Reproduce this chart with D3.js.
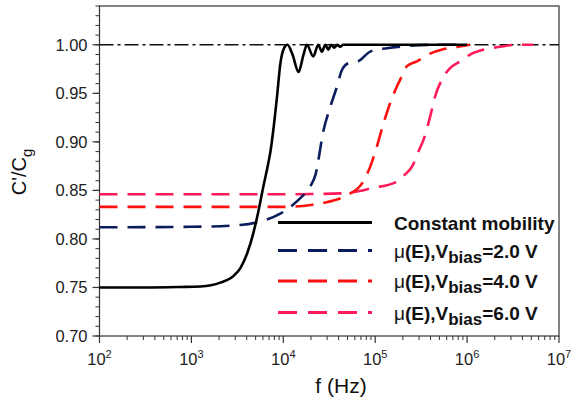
<!DOCTYPE html>
<html>
<head>
<meta charset="utf-8">
<script src="https://cdn.jsdelivr.net/npm/d3@7"></script>
<style>
  body { margin: 0; background: #fff; }
  svg { font-family: "Liberation Sans", Arial, sans-serif; }
</style>
</head>
<body>
<svg id="chart" width="573" height="400"></svg>
<script>
// log10(f) and C'/Cg
var blackLogF = [2.0, 2.5, 2.88, 3.10, 3.315, 3.46, 3.533, 3.61, 3.674, 3.728, 3.783, 3.83, 3.86, 3.891, 3.932, 3.967, 4.011, 4.045,
                 4.10, 4.166, 4.22, 4.257, 4.326, 4.38, 4.42, 4.457, 4.49, 4.52, 4.554, 4.587, 4.62, 4.65, 4.8, 5.2, 5.6, 6.0];
var blackC = [0.750, 0.750, 0.7505, 0.751, 0.755, 0.762, 0.770, 0.786, 0.806, 0.828, 0.854, 0.875, 0.890, 0.912, 0.947, 0.980, 0.997, 1.000,
              0.990, 0.972, 0.990, 1.000, 0.988, 1.000, 0.993, 1.000, 0.995, 1.000, 0.997, 1.000, 0.998, 1.000, 1.000, 1.000, 1.000, 1.000];

var blueLogF = [2.0, 3.0, 3.533, 3.75, 3.967, 4.076, 4.185, 4.293, 4.35, 4.438, 4.511, 4.584, 4.638, 4.707, 4.815, 4.946, 5.127, 5.38, 5.6, 6.0];
var blueC = [0.812, 0.8125, 0.8144, 0.818, 0.826, 0.833, 0.842, 0.854, 0.866, 0.912, 0.936, 0.957, 0.974, 0.981, 0.983, 0.993, 0.9965, 0.999, 1.000, 1.000];

var redLogF = [2.0, 4.0, 4.3, 4.43, 4.69, 4.855, 4.946, 5.018, 5.09, 5.163, 5.236, 5.308, 5.345, 5.453, 5.598, 5.739, 5.902, 6.03];
var redC = [0.833, 0.833, 0.835, 0.837, 0.845, 0.857, 0.8745, 0.895, 0.919, 0.940, 0.957, 0.971, 0.978, 0.983, 0.991, 0.9955, 0.998, 1.000];

var pinkLogF = [2.0, 4.0, 4.652, 4.978, 5.236, 5.32, 5.41, 5.46, 5.525, 5.598, 5.652, 5.725, 5.815, 5.924, 6.033, 6.178, 6.36, 6.54, 6.72];
var pinkC = [0.846, 0.846, 0.847, 0.8526, 0.859, 0.866, 0.876, 0.888, 0.902, 0.926, 0.947, 0.964, 0.976, 0.983, 0.990, 0.995, 0.998, 1.000, 1.000];

var refLogF = [2, 7];
var refC = [1.0, 1.0];

var xDecades = [2, 3, 4, 5, 6, 7];
var yTicks = [0.70, 0.75, 0.80, 0.85, 0.90, 0.95, 1.00];
var legendLabels = ["Constant mobility", "2.0", "4.0", "6.0"];

var svg = d3.select("#chart");
var margin = {top: 6, right: 14, bottom: 64, left: 99.5},
    width = 573 - margin.left - margin.right,
    height = 400 - margin.top - margin.bottom;

var x = d3.scaleLog().domain([1e2, 1e7]).range([margin.left, margin.left + width]);
var y = d3.scaleLinear().domain([0.70, 1.04]).range([margin.top + height, margin.top]);

// frame
svg.append("rect")
    .attr("x", x.range()[0]).attr("y", y.range()[1])
    .attr("width", width).attr("height", height)
    .attr("fill", "none").attr("stroke", "#333").attr("stroke-width", 1.2);

// y ticks (major + minor)
var yMinor = d3.range(70, 105).map(function(d){ return d / 100 })
svg.selectAll(".ymin").data(yMinor).enter().append("line")
    .attr("x1", margin.left).attr("x2", margin.left - 4)
    .attr("y1", function(d){ return y(d) }).attr("y2", function(d){ return y(d) })
    .attr("stroke", "#333").attr("stroke-width", 1);
svg.selectAll(".ymaj").data(yTicks).enter().append("line")
    .attr("x1", margin.left).attr("x2", margin.left - 7)
    .attr("y1", function(d){ return y(d) }).attr("y2", function(d){ return y(d) })
    .attr("stroke", "#333").attr("stroke-width", 1.2);
svg.selectAll(".ylab").data(yTicks).enter().append("text")
    .attr("x", margin.left - 12).attr("y", function(d){ return y(d) + 6 })
    .attr("text-anchor", "end").attr("font-size", 16.5).attr("fill", "#222")
    .text(function(d){ return d.toFixed(2) });

// x ticks
var xMinor = [];
xDecades.slice(0, -1).forEach(function(e){
    for (var k = 2; k < 10; k++) xMinor.push(k * Math.pow(10, e));
})
var yb = margin.top + height;
svg.selectAll(".xmin").data(xMinor).enter().append("line")
    .attr("x1", function(d){ return x(d) }).attr("x2", function(d){ return x(d) })
    .attr("y1", yb).attr("y2", yb + 4)
    .attr("stroke", "#333").attr("stroke-width", 1);
svg.selectAll(".xmaj").data(xDecades).enter().append("line")
    .attr("x1", function(d){ return x(Math.pow(10, d)) }).attr("x2", function(d){ return x(Math.pow(10, d)) })
    .attr("y1", yb).attr("y2", yb + 7)
    .attr("stroke", "#333").attr("stroke-width", 1.2);
var xl = svg.selectAll(".xlab").data(xDecades).enter().append("text")
    .attr("x", function(d){ return x(Math.pow(10, d)) }).attr("y", 365)
    .attr("text-anchor", "middle").attr("font-size", 16.5).attr("fill", "#222");
xl.append("tspan").text("10");
xl.append("tspan").attr("font-size", 11).attr("dy", -7).text(function(d){ return d });

// axis titles
svg.append("text").attr("x", 341).attr("y", 393).attr("text-anchor", "middle")
    .attr("font-size", 21).attr("fill", "#111").text("f (Hz)");
var yt = svg.append("text").attr("transform", "translate(26,172) rotate(-90)")
    .attr("text-anchor", "middle").attr("font-size", 20).attr("fill", "#111");
yt.append("tspan").text("C'/C");
yt.append("tspan").attr("font-size", 15).attr("dy", 6).text("g");

// curves
var line = d3.line()
    .x(function(d){ return x(Math.pow(10, d[0])) })
    .y(function(d){ return y(d[1]) })
    .curve(d3.curveMonotoneX);

function newPath(lf, c, color, dash, w){
    svg.append("path")
        .datum(d3.zip(lf, c))
        .attr("fill", "none")
        .attr("stroke", color)
        .attr("stroke-width", w)
        .attr("stroke-dasharray", dash)
        .attr("d", line);
}

newPath(refLogF, refC, "#111", "14,4,3,4", 1.5);
newPath(pinkLogF, pinkC, "#ff1a5a", "18,10", 2.6);
newPath(redLogF, redC, "#ff1010", "18,10", 2.6);
newPath(blueLogF, blueC, "#0c1d5e", "18,10", 2.6);
newPath(blackLogF, blackC, "#000", null, 2.6);

// legend
var legColors = ["#000", "#0c1d5e", "#ff1010", "#ff1a5a"];
var legDash = [null, "19,11", "19,11", "19,11"];
var legY = [222.5, 250.5, 281, 312.5];
legendLabels.forEach(function(lab, i){
    svg.append("line")
        .attr("x1", 278).attr("x2", 372).attr("y1", legY[i]).attr("y2", legY[i])
        .attr("stroke", legColors[i]).attr("stroke-width", 2.8)
        .attr("stroke-dasharray", legDash[i]);
    var t = svg.append("text").attr("x", 394).attr("y", legY[i] + 7)
        .attr("font-size", 19).attr("font-weight", "bold").attr("fill", "#111");
    if (i == 0) {
        t.text(lab);
    } else {
        t.append("tspan").attr("font-weight", "normal").text("\u03bc");
        t.append("tspan").text("(E),V");
        t.append("tspan").attr("font-size", 17).attr("dy", 5).text("bias");
        t.append("tspan").attr("dy", -5).text("=" + lab + " V");
    }
});
</script>
</body>
</html>
